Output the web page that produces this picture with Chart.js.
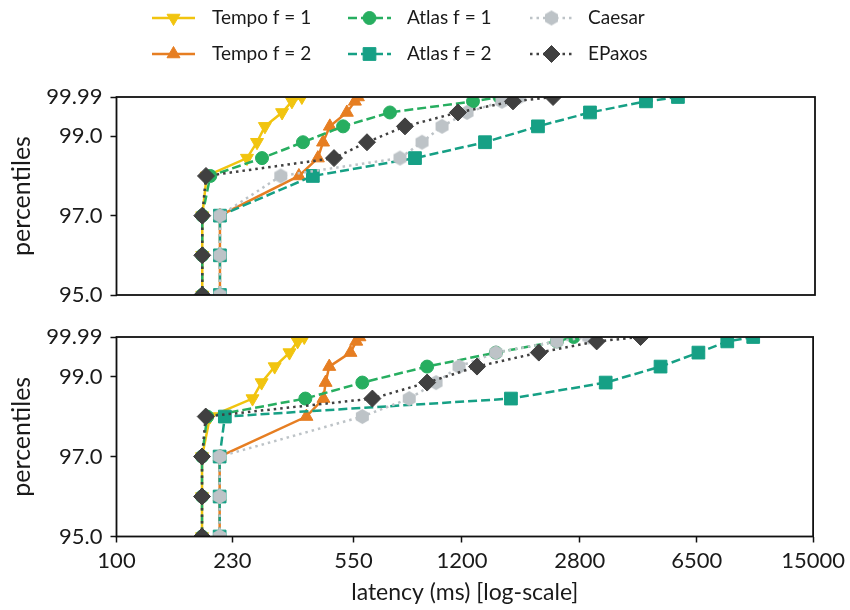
<!DOCTYPE html>
<html>
<head>
<meta charset="utf-8">
<script src="https://cdn.jsdelivr.net/npm/chart.js@4.4.1/dist/chart.umd.min.js"></script>
<style>
    html, body { margin: 0; padding: 0; background: #ffffff; }
    #wrap { position: relative; width: 850px; height: 610px; }
    #wrap canvas { position: absolute; left: 0; }
    #topPanel { top: 0; }
    #bottomPanel { top: 305px; }
</style>
</head>
<body>
<div id="wrap">
    <canvas id="topPanel" width="850" height="305"></canvas>
    <canvas id="bottomPanel" width="850" height="305"></canvas>
</div>
<script>
// percentile levels shared by every curve
const percentiles = [95, 96, 97, 98, 98.45, 98.85, 99.25, 99.6, 99.88, 99.99];

// latency (ms) at each percentile level, upper panel
const tempoF1Top = [185, 185, 185, 191, 255, 274, 290, 328, 352, 378];
const tempoF2Top = [210, 210, 210, 370, 424, 440, 462, 522, 553, 565];
const atlasF1Top = [185, 185, 185, 196, 284, 381, 508, 711, 1290, 1560];
const atlasF2Top = [210, 210, 210, 409, 851, 1406, 2056, 2986, 4462, 5612];
const caesarTop = [210, 210, 210, 325, 764, 895, 1033, 1236, 1588, 1800];
const epaxosTop = [185, 185, 185, 190, 476, 603, 792, 1158, 1719, 2291];

// latency (ms) at each percentile level, lower panel
const tempoF1Bottom = [185, 185, 185, 196, 266, 284, 312, 347, 368, 386];
const tempoF2Bottom = [210, 210, 210, 392, 443, 450, 462, 538, 561, 574];
const atlasF1Bottom = [185, 185, 185, 192, 389, 586, 934, 1532, 2374, 2680];
const atlasF2Bottom = [210, 210, 210, 218, 1707, 3374, 5006, 6574, 8091, 9750];
const caesarBottom = [210, 210, 210, 586, 821, 996, 1175, 1532, 2374, 2987];
const epaxosBottom = [185, 185, 185, 190, 630, 934, 1337, 2086, 3162, 4336];

const seriesNames = ["Tempo f = 1", "Tempo f = 2", "Atlas f = 1", "Atlas f = 2", "Caesar", "EPaxos"];

const latencyTicks = [100, 230, 550, 1200, 2800, 6500, 15000];
const percentileTicks = [95, 97, 99, 99.99];
const percentileTickLabels = ["95.0", "97.0", "99.0", "99.99"];

const FONT = "Lato, 'DejaVu Sans', sans-serif";
const TEXT_COLOR = "#1a1a1a";


function hexagonMarker(radius, color) {
    const size = Math.ceil(radius * 2 + 2);
    const c = document.createElement("canvas");
    c.width = size;
    c.height = size;
    const ctx = c.getContext("2d");
    ctx.beginPath();
    for (let i = 0; i < 6; i++) {
        const a = Math.PI / 2 + i * Math.PI / 3;
        const px = size / 2 + radius * Math.cos(a);
        const py = size / 2 - radius * Math.sin(a);
        if (i === 0) {
            ctx.moveTo(px, py);
        } else {
            ctx.lineTo(px, py);
        }
    }
    ctx.closePath();
    ctx.fillStyle = color;
    ctx.fill();
    return c;
}


// line and marker look of each protocol, same order as seriesNames
const seriesLook = [
    { color: "#f1c40f", dash: [], marker: "triangle", rotation: 180, radius: 7.5, order: 5 },
    { color: "#e67e22", dash: [], marker: "triangle", rotation: 0, radius: 7.5, order: 4 },
    { color: "#27ae60", dash: [9, 4], marker: "circle", rotation: 0, radius: 6.5, order: 3 },
    { color: "#16a085", dash: [9, 4], marker: "rect", rotation: 0, radius: 9, order: 2 },
    { color: "#bdc3c7", dash: [2.5, 4], marker: hexagonMarker(7.5, "#bdc3c7"), rotation: 0, radius: 7.5, order: 1 },
    { color: "#404040", dash: [2.5, 4], marker: "rectRot", rotation: 0, radius: 8.5, order: 0 }
];


function buildDatasets(latencies) {
    return latencies.map(function (values, i) {
        const look = seriesLook[i];
        return {
            label: seriesNames[i],
            data: percentiles.map(function (p, k) {
                return { x: values[k], y: p };
            }),
            borderColor: look.color,
            backgroundColor: look.color,
            borderWidth: 2.5,
            borderDash: look.dash,
            borderCapStyle: "butt",
            tension: 0,
            pointStyle: look.marker,
            pointRotation: look.rotation,
            pointRadius: look.radius,
            pointBorderWidth: 1,
            pointBorderColor: look.color,
            pointBackgroundColor: look.color,
            order: look.order,
            clip: 0
        };
    });
}


const framePlugin = {
    id: "frame",
    afterDatasetsDraw: function (chart) {
        const a = chart.chartArea;
        const ctx = chart.ctx;
        ctx.save();
        ctx.strokeStyle = "#111111";
        ctx.lineWidth = 1.8;
        ctx.strokeRect(a.left, a.top, a.right - a.left, a.bottom - a.top);
        ctx.restore();
    }
};


const legendPlugin = {
    id: "protocolLegend",
    afterDraw: function (chart) {
        const ctx = chart.ctx;
        const lineStarts = [152, 348, 530];
        const textStarts = [212, 407, 588];
        const rows = [18, 54];
        const lineLength = 43;

        ctx.save();
        seriesNames.forEach(function (name, i) {
            const look = seriesLook[i];
            const col = Math.floor(i / 2);
            const y = rows[i % 2];
            const x0 = lineStarts[col];

            ctx.beginPath();
            ctx.setLineDash(look.dash);
            ctx.lineCap = "butt";
            ctx.strokeStyle = look.color;
            ctx.lineWidth = 2.5;
            ctx.moveTo(x0, y);
            ctx.lineTo(x0 + lineLength, y);
            ctx.stroke();
            ctx.setLineDash([]);

            ctx.fillStyle = look.color;
            ctx.strokeStyle = look.color;
            ctx.lineWidth = 1;
            Chart.helpers.drawPoint(ctx, {
                pointStyle: look.marker,
                rotation: look.rotation,
                radius: look.radius,
                borderWidth: 1
            }, x0 + lineLength / 2, y);

            ctx.fillStyle = TEXT_COLOR;
            ctx.font = "19px " + FONT;
            ctx.textAlign = "left";
            ctx.textBaseline = "middle";
            ctx.fillText(name, textStarts[col], y);
        });
        ctx.restore();
    }
};


function makePanel(canvasId, latencies, isBottom) {
    const canvas = document.getElementById(canvasId);

    new Chart(canvas, {
        type: "line",
        data: { datasets: buildDatasets(latencies) },
        options: {
            responsive: false,
            animation: false,
            events: [],
            layout: {
                padding: isBottom
                    ? { top: 32, right: 35, bottom: 0, left: 0 }
                    : { top: 97, right: 35, bottom: 8.5, left: 0 }
            },
            plugins: {
                legend: { display: false },
                tooltip: { enabled: false }
            },
            scales: {
                x: {
                    type: "logarithmic",
                    min: 100,
                    max: 15000,
                    display: isBottom,
                    afterBuildTicks: function (scale) {
                        scale.ticks = latencyTicks.map(function (v) {
                            return { value: v };
                        });
                    },
                    afterFit: function (scale) {
                        scale.height = isBottom ? 73.5 : 0;
                    },
                    border: { display: false },
                    grid: {
                        display: true,
                        drawOnChartArea: false,
                        drawTicks: true,
                        tickLength: 6,
                        tickColor: "#111111",
                        tickWidth: 1.5
                    },
                    ticks: {
                        autoSkip: false,
                        maxRotation: 0,
                        padding: 5,
                        color: TEXT_COLOR,
                        font: { family: FONT, size: 22 },
                        callback: function (value) {
                            return String(value);
                        }
                    },
                    title: {
                        display: true,
                        text: "latency (ms) [log-scale]",
                        color: TEXT_COLOR,
                        font: { family: FONT, size: 23 },
                        padding: { top: 0, bottom: 4 }
                    }
                },
                y: {
                    type: "linear",
                    min: 95,
                    max: 99.99,
                    afterBuildTicks: function (scale) {
                        scale.ticks = percentileTicks.map(function (v) {
                            return { value: v };
                        });
                    },
                    afterFit: function (scale) {
                        // fixed gutter so both panels share the same left edge
                        scale.width = 116.5;
                        scale.paddingTop = 0;
                        scale.paddingBottom = 0;
                    },
                    border: { display: false },
                    grid: {
                        display: true,
                        drawOnChartArea: false,
                        drawTicks: true,
                        tickLength: 6,
                        tickColor: "#111111",
                        tickWidth: 1.5
                    },
                    ticks: {
                        autoSkip: false,
                        padding: 8,
                        color: TEXT_COLOR,
                        font: { family: FONT, size: 22 },
                        callback: function (value) {
                            const idx = percentileTicks.indexOf(value);
                            return idx >= 0 ? percentileTickLabels[idx] : "";
                        }
                    },
                    title: {
                        display: true,
                        text: "percentiles",
                        color: TEXT_COLOR,
                        font: { family: FONT, size: 25 },
                        padding: { top: 7, bottom: 0 }
                    }
                }
            }
        },
        plugins: isBottom ? [framePlugin] : [framePlugin, legendPlugin]
    });
}


document.addEventListener("DOMContentLoaded", function () {
    makePanel("topPanel", [tempoF1Top, tempoF2Top, atlasF1Top, atlasF2Top, caesarTop, epaxosTop], false);
    makePanel("bottomPanel", [tempoF1Bottom, tempoF2Bottom, atlasF1Bottom, atlasF2Bottom, caesarBottom, epaxosBottom], true);
});
</script>
</body>
</html>
